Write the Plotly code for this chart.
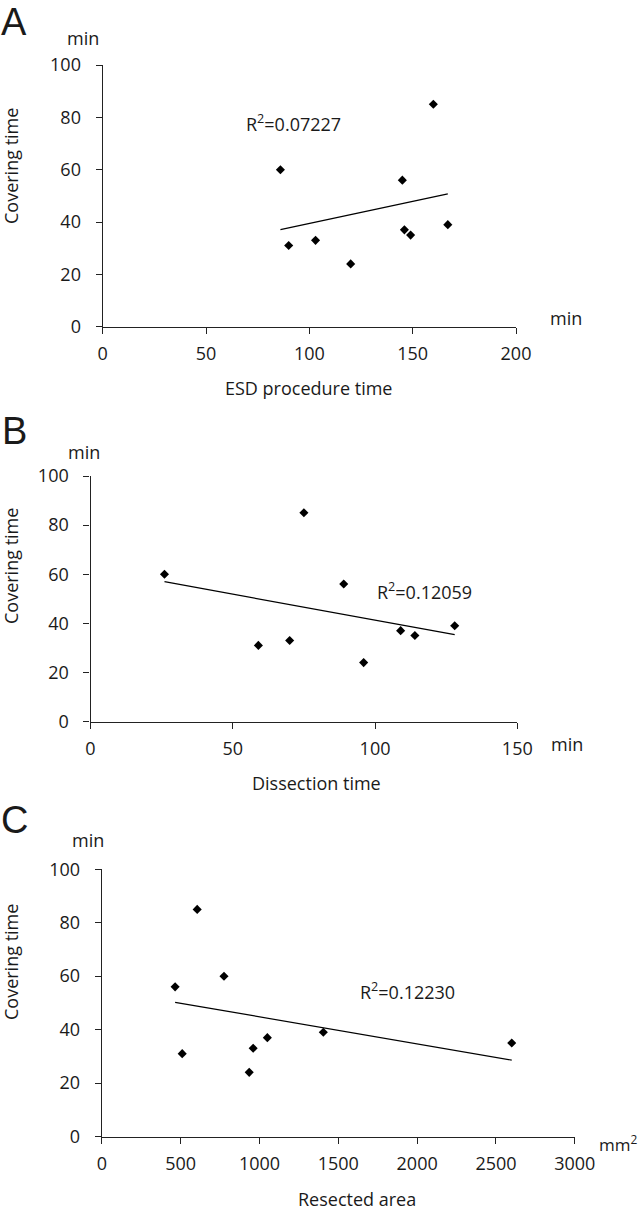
import numpy as np
import plotly.graph_objects as go

W, H = 638, 1212

# ---- data ----
covering_time = [60, 31, 33, 24, 56, 37, 35, 39, 85]
esd_time = [86, 90, 103, 120, 145, 146, 149, 167, 160]
dissection_time = [26, 59, 70, 96, 89, 109, 114, 128, 75]
resected_area = [775, 510, 960, 935, 465, 1050, 2600, 1405, 605]

r2_labels = ["R<sup>2</sup>=0.07227", "R<sup>2</sup>=0.12059", "R<sup>2</sup>=0.12230"]
x_titles = ["ESD procedure time", "Dissection time", "Resected area"]
x_units = ["min", "min", "mm<sup>2</sup>"]
panel_letters = ["A", "B", "C"]
x_ranges = [[0, 200], [0, 150], [0, 3000]]
x_dticks = [50, 50, 500]

# ---- layout geometry (pixels) ----
# (left, right, top, bottom) of each plotting area
boxes = [(102.7, 516.0, 65.0, 326.7),
         (90.5, 517.3, 476.0, 721.5),
         (101.8, 574.8, 869.3, 1136.5)]


def px(x, y):
    return x / W, 1 - y / H


FONT = "Open Sans"
TXT = "#1a1a1a"

fig = go.Figure()
xs_all = [esd_time, dissection_time, resected_area]

for i, (xs, box) in enumerate(zip(xs_all, boxes)):
    l, r, t, b = box
    sfx = "" if i == 0 else str(i + 1)
    xa, ya = "x" + sfx, "y" + sfx
    fig.add_trace(go.Scatter(
        x=xs, y=covering_time, mode="markers", xaxis=xa, yaxis=ya,
        marker=dict(symbol="diamond", size=7, color="black"),
        showlegend=False, hoverinfo="skip"))
    coef = np.polyfit(xs, covering_time, 1)
    lx = np.array([min(xs), max(xs)], dtype=float)
    fig.add_trace(go.Scatter(
        x=lx, y=np.polyval(coef, lx), mode="lines", xaxis=xa, yaxis=ya,
        line=dict(color="black", width=1.2),
        showlegend=False, hoverinfo="skip"))
    common = dict(showline=True, linecolor="#222", linewidth=1.3,
                  ticks="outside", ticklen=6, tickwidth=1.3, tickcolor="#222",
                  showgrid=False, zeroline=False, automargin=False,
                  tickfont=dict(family=FONT, size=18, color=TXT))
    fig.layout["xaxis" + sfx] = dict(
        domain=[l / W, r / W], range=x_ranges[i], dtick=x_dticks[i],
        anchor=ya, ticklabelstandoff=5, **common)
    fig.layout["yaxis" + sfx] = dict(
        domain=[1 - b / H, 1 - t / H], range=[0, 100], dtick=20,
        anchor=xa, ticklabelstandoff=11, **common)

ann = []


def add_text(text, x, y, size=18, family=FONT, angle=0, xanchor="center",
             yanchor="middle"):
    ax, ay = px(x, y)
    ann.append(dict(text=text, x=ax, y=ay, xref="paper", yref="paper",
                    xanchor=xanchor, yanchor=yanchor, showarrow=False,
                    textangle=angle, borderpad=0,
                    font=dict(family=family, size=size, color=TXT)))


# panel letters
for letter, (x, y) in zip(panel_letters, [(14, 0), (14, 409), (14, 798)]):
    add_text(letter, x, y, size=38, family="Liberation Sans", yanchor="top")

# y unit labels
for (x, y) in [(83, 38), (84, 452), (88, 840)]:
    add_text("min", x, y)

# y titles
for (x, y) in [(11, 166), (11, 566), (11, 962)]:
    add_text("Covering time", x, y, angle=-90)

# x units
for unit, (x, y) in zip(x_units, [(549, 318), (550, 744), (598, 1143)]):
    add_text(unit, x, y, xanchor="left", size=18 if unit == "min" else 17)

# x titles
for title, (x, y) in zip(x_titles, [(308, 388), (316, 783), (357, 1199)]):
    add_text(title, x, y)

# R^2 labels
for lab, (x, y) in zip(r2_labels, [(293, 123), (424, 591), (407, 991)]):
    add_text(lab, x, y)

fig.update_layout(
    width=W, height=H,
    margin=dict(l=0, r=0, t=0, b=0, pad=0, autoexpand=False),
    paper_bgcolor="white", plot_bgcolor="white",
    showlegend=False, annotations=ann)

fig.write_html("out.html")
